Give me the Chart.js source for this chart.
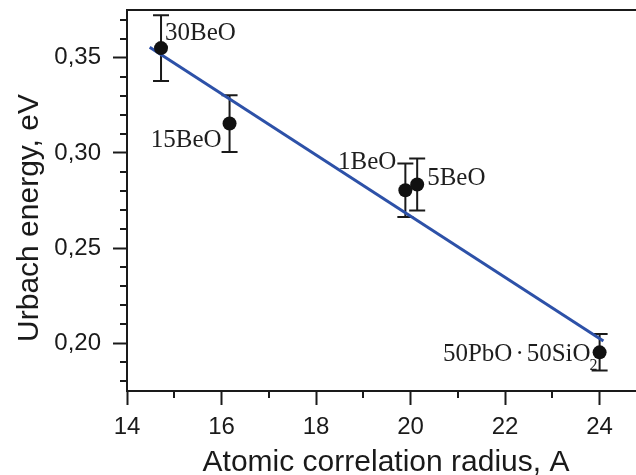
<!DOCTYPE html>
<html>
<head>
<meta charset="utf-8">
<script src="https://cdn.jsdelivr.net/npm/chart.js@4.4.1/dist/chart.umd.min.js"></script>
<style>
  html, body { margin: 0; padding: 0; background: #fff; overflow: hidden; }
  #wrap { position: relative; width: 636px; height: 475px; }
</style>
</head>
<body>
<div id="wrap"><canvas id="urbach-chart"></canvas></div>
<script>
(() => {
  // glass samples: atomic correlation radius (A) vs Urbach energy (eV)
  const sampleNames = ["30BeO", "15BeO", "1BeO", "5BeO", "50PbO\u00b750SiO"];
  const nameSubscripts = ["", "", "", "", "2"];
  const radius = [14.72, 16.17, 19.89, 20.14, 24.0];
  const urbachEnergy = [0.355, 0.3154, 0.2804, 0.2834, 0.1953];
  const energyError = [0.0173, 0.0149, 0.014, 0.0136, 0.0096];

  // linear fit through the samples
  const fitRadius = [14.48, 24.08];
  const fitEnergy = [0.3555, 0.2012];

  const xTicks = [14, 16, 18, 20, 22, 24];
  const xMinorTicks = [15, 17, 19, 21, 23];
  const yTicks = [0.20, 0.25, 0.30, 0.35];
  const yMinorTicks = [0.18, 0.19, 0.21, 0.22, 0.23, 0.24, 0.26, 0.27, 0.28, 0.29,
    0.31, 0.32, 0.33, 0.34, 0.36, 0.37];

  const INK = "#1a1a1a";
  const FIT_COLOR = "#2d51a8";
  const SANS = "'Liberation Sans', Arial, sans-serif";
  const SERIF = "'Liberation Serif', 'Times New Roman', serif";
  const DOT_GAP = 3;

  // where each sample name sits relative to its point
  const labelPlacement = [
    { dx: 4, dy: -8, align: "left" },
    { dx: -8, dy: 23, align: "right" },
    { dx: -9, dy: -21, align: "right" },
    { dx: 10, dy: 1, align: "left" },
    { dx: -9, dy: 9, align: "right" },
  ];

  // the middle dot of a formula gets a little air on both sides
  const nameWidth = (ctx, parts) =>
    parts.reduce((w, s) => w + ctx.measureText(s).width, 0) + (parts.length - 1) * 2 * DOT_GAP +
    (parts.length - 1) * ctx.measureText("\u00b7").width;

  const drawName = (ctx, name, x, y, align) => {
    const parts = name.split("\u00b7");
    let cx = align === "right" ? x - nameWidth(ctx, parts) : x;
    ctx.textAlign = "left";
    parts.forEach((part, k) => {
      if (k > 0) {
        cx += DOT_GAP;
        ctx.fillText("\u00b7", cx, y);
        cx += ctx.measureText("\u00b7").width + DOT_GAP;
      }
      ctx.fillText(part, cx, y);
      cx += ctx.measureText(part).width;
    });
    return cx;
  };

  const decorations = {
    id: "decorations",
    beforeDatasetsDraw(chart) {
      // error bars sit underneath the fit line and the points
      const { ctx, scales: { x, y } } = chart;
      ctx.save();
      ctx.strokeStyle = INK;
      ctx.lineWidth = 2;
      radius.forEach((r, i) => {
        const px = x.getPixelForValue(r);
        const top = y.getPixelForValue(urbachEnergy[i] + energyError[i]);
        const bottom = y.getPixelForValue(urbachEnergy[i] - energyError[i]);
        ctx.beginPath();
        ctx.moveTo(px, top);
        ctx.lineTo(px, bottom);
        ctx.moveTo(px - 8, top);
        ctx.lineTo(px + 8, top);
        ctx.moveTo(px - 8, bottom);
        ctx.lineTo(px + 8, bottom);
        ctx.stroke();
      });
      ctx.restore();
    },
    afterDatasetsDraw(chart) {
      const { ctx, scales: { x, y } } = chart;
      ctx.save();
      ctx.fillStyle = "#1e1e1e";
      ctx.textBaseline = "alphabetic";
      sampleNames.forEach((name, i) => {
        const p = labelPlacement[i];
        const px = x.getPixelForValue(radius[i]) + p.dx;
        const py = y.getPixelForValue(urbachEnergy[i]) + p.dy;
        ctx.font = `25px ${SERIF}`;
        const end = drawName(ctx, name, px, py, p.align);
        if (nameSubscripts[i]) {
          ctx.font = `16px ${SERIF}`;
          ctx.fillText(nameSubscripts[i], end - 1, py + 9);
        }
      });
      ctx.restore();
    },
    afterDraw(chart) {
      const { ctx, chartArea: area, scales: { x, y } } = chart;
      ctx.save();
      ctx.strokeStyle = INK;
      ctx.lineWidth = 2;

      // top frame line
      ctx.beginPath();
      ctx.moveTo(area.left - 1, area.top);
      ctx.lineTo(area.right, area.top);
      ctx.stroke();

      // minor ticks, pointing outward
      ctx.beginPath();
      xMinorTicks.forEach((v) => {
        const px = Math.round(x.getPixelForValue(v));
        ctx.moveTo(px, area.bottom);
        ctx.lineTo(px, area.bottom + 7);
      });
      yMinorTicks.forEach((v) => {
        const py = Math.round(y.getPixelForValue(v));
        ctx.moveTo(area.left, py);
        ctx.lineTo(area.left - 7, py);
      });
      ctx.stroke();

      // axis titles
      ctx.fillStyle = INK;
      ctx.font = `30px ${SANS}`;
      ctx.textAlign = "center";
      ctx.textBaseline = "alphabetic";
      ctx.fillText("Atomic correlation radius, A", 386, 471);

      ctx.translate(38, 218);
      ctx.rotate(-Math.PI / 2);
      ctx.fillText("Urbach energy, eV", 0, 0);
      ctx.restore();
    },
  };

  new Chart(document.getElementById("urbach-chart"), {
    type: "scatter",
    data: {
      datasets: [
        {
          data: radius.map((r, i) => ({ x: r, y: urbachEnergy[i] })),
          pointRadius: 7,
          pointHoverRadius: 7,
          pointBackgroundColor: "#111",
          pointBorderWidth: 0,
          order: 0,
        },
        {
          data: fitRadius.map((r, i) => ({ x: r, y: fitEnergy[i] })),
          showLine: true,
          borderColor: FIT_COLOR,
          borderWidth: 3,
          pointRadius: 0,
          order: 1,
        },
      ],
    },
    options: {
      responsive: true,
      maintainAspectRatio: false,
      animation: false,
      layout: { autoPadding: false, padding: { top: 10, left: 0, right: 0, bottom: 0 } },
      plugins: {
        legend: { display: false },
        tooltip: { enabled: false },
      },
      scales: {
        x: {
          type: "linear",
          position: "bottom",
          min: 14,
          max: 24.77,
          afterBuildTicks: (scale) => {
            scale.ticks = xTicks.map((value) => ({ value }));
          },
          afterFit: (scale) => {
            scale.height = 84;
            scale.paddingLeft = 0;
            scale.paddingRight = 0;
          },
          grid: { drawOnChartArea: false, tickLength: 14, tickWidth: 2, tickColor: INK },
          border: { color: INK, width: 2 },
          ticks: {
            font: { family: SANS, size: 24 },
            color: INK,
            padding: 8,
            maxRotation: 0,
          },
        },
        y: {
          type: "linear",
          min: 0.175,
          max: 0.375,
          afterBuildTicks: (scale) => {
            scale.ticks = yTicks.map((value) => ({ value }));
          },
          afterFit: (scale) => {
            scale.width = 127;
            scale.paddingTop = 0;
            scale.paddingBottom = 0;
          },
          grid: { drawOnChartArea: false, tickLength: 14, tickWidth: 2, tickColor: INK },
          border: { color: INK, width: 2 },
          ticks: {
            font: { family: SANS, size: 24 },
            color: INK,
            padding: 12,
            callback: (v) => v.toFixed(2).replace(".", ","),
          },
        },
      },
    },
    plugins: [decorations],
  });
})();
</script>
</body>
</html>
